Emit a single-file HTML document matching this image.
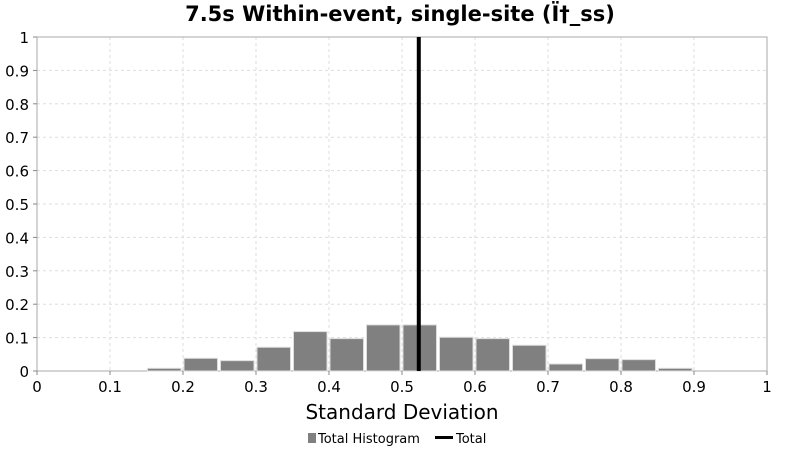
<!DOCTYPE html>
<html><head><meta charset="utf-8"><style>
body{margin:0;background:#fff;font-family:"DejaVu Sans","Liberation Sans",sans-serif}
</style></head><body>
<svg id="c" width="800" height="450" xmlns="http://www.w3.org/2000/svg">
<text x="400" y="21" text-anchor="middle" font-size="21" font-weight="bold">7.5s Within-event, single-site (Ï†_ss)</text>
<g id="grid"></g><g id="bars"></g><g id="axes"></g>
<text x="402" y="419" text-anchor="middle" font-size="20">Standard Deviation</text>
<g>
<rect x="308" y="433" width="8" height="10" fill="#808080"/>
<text x="318" y="443" font-size="13">Total Histogram</text>
<rect x="435" y="436" width="18" height="3" fill="#000"/>
<text x="456" y="443" font-size="13">Total</text>
</g>
</svg>
<script>
const binStarts=[0.15,0.2,0.25,0.3,0.35,0.4,0.45,0.5,0.55,0.6,0.65,0.7,0.75,0.8,0.85];
const binValues=[0.008,0.038,0.031,0.071,0.118,0.097,0.138,0.138,0.101,0.097,0.077,0.021,0.037,0.034,0.008];
const binWidth=0.05;
const totalValue=0.523;
const xTicks=[0,0.1,0.2,0.3,0.4,0.5,0.6,0.7,0.8,0.9,1];
const yTicks=[0,0.1,0.2,0.3,0.4,0.5,0.6,0.7,0.8,0.9,1];
const X0=37,X1=767,Y0=371,Y1=37;
const xs=v=>X0+v*(X1-X0), ys=v=>Y0-v*(Y0-Y1);
const NS="http://www.w3.org/2000/svg";
function mk(t,a,p){const e=document.createElementNS(NS,t);for(const k in a)e.setAttribute(k,a[k]);document.getElementById(p).appendChild(e);return e;}
xTicks.forEach(t=>{
 const l=mk('line',{x1:xs(t),x2:xs(t),y1:Y1,y2:Y0,stroke:'#ddd','stroke-dasharray':'3,3'},'grid');
 
 
 const k=mk('line',{x1:xs(t),x2:xs(t),y1:Y0,y2:Y0+4,stroke:'#888'},'axes');
 
 
 const tx=mk('text',{x:xs(t),y:392,'text-anchor':'middle','font-size':15},'axes');tx.textContent=String(t);
 
 
});
yTicks.forEach(t=>{
 const l=mk('line',{x1:X0,x2:X1,y1:ys(t),y2:ys(t),stroke:'#ddd','stroke-dasharray':'3,3'},'grid');
 
 
 const k=mk('line',{x1:X0-4,x2:X0,y1:ys(t),y2:ys(t),stroke:'#888'},'axes');
 
 
 const tx=mk('text',{x:29,y:ys(t)+6,'text-anchor':'end','font-size':15},'axes');tx.textContent=String(t);
 
 
});
const frame=mk('rect',{x:X0,y:Y1,width:X1-X0,height:Y0-Y1,fill:'none',stroke:'#aaa'},'grid');


binStarts.forEach((s,i)=>{
 const x=xs(s)+1,w=xs(s+binWidth)-xs(s)-3;
 const r=mk('rect',{x:x,y:ys(binValues[i]),width:w,height:Y0-ys(binValues[i]),fill:'#808080',stroke:'#ddd','stroke-width':1},'bars');
 
 
});
const tl=mk('line',{x1:xs(totalValue),x2:xs(totalValue),y1:Y1,y2:Y0,stroke:'#000','stroke-width':4},'bars');


</script>
</body></html>
